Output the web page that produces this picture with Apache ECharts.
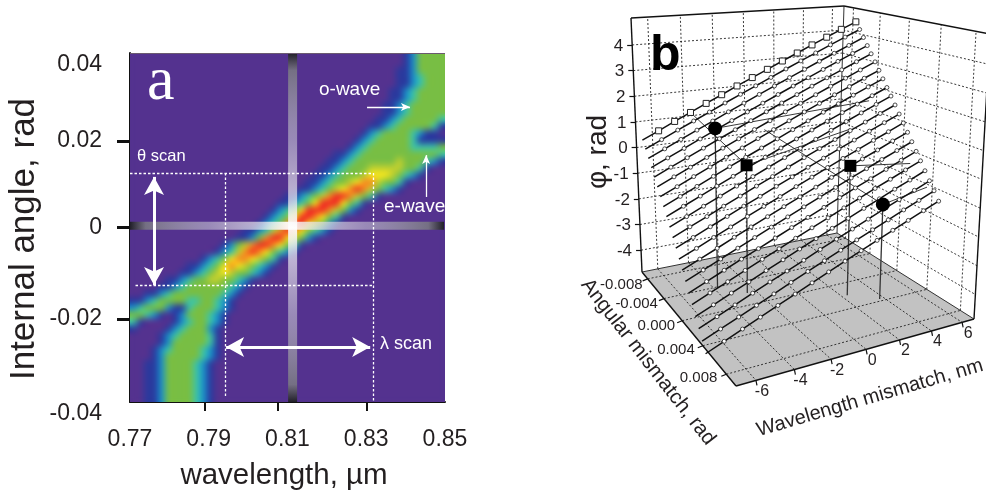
<!DOCTYPE html>
<html><head><meta charset="utf-8">
<style>html,body{margin:0;padding:0;background:#fff}#c{width:986px;height:491px}</style>
<script src="https://cdn.jsdelivr.net/npm/echarts@6/dist/echarts.min.js"></script>
</head><body><div id="c"></div>
<script>
// ---------- panel a data ----------
const xTicks = [0.77, 0.79, 0.81, 0.83, 0.85];
const xMajorTicks = [0.7891, 0.8076, 0.8302];
const yTicks = [-0.04, -0.021, 0, 0.0198, 0.04];
const yMajorTicks = [-0.021, 0, 0.0198];
// heat levels per row (top to bottom): [leading zero cells, levels]
const heatRows = [
[39,"124444"],[39,"124444"],[38,"1124444"],[38,"1123444"],[38,"1123444"],
[37,"11234444"],[37,"11234444"],[36,"112344444"],[36,"112344444"],[35,"1123444443"],
[34,"11234444431"],[33,"123444432110"],[32,"1234444431111"],[31,"12344444433334"],[29,"1123444444444443"],
[28,"11234444445444321"],[27,"1123444555554431"],[26,"1123444566654321"],[25,"112344567754431"],[24,"112345678754321"],
[22,"11234578875431"],[21,"1123468886431"],[20,"1234688875421"],[19,"123468876431"],[18,"123478865421"],
[16,"1123578764321"],[15,"112478865421"],[13,"124578876431"],[12,"123578764321"],[10,"123467765431"],
[8,"1123467654321"],[7,"1123456544321"],[5,"1123445544321"],[4,"1123444444321"],[2,"11234444444321"],
[0,"112344443344321"],[0,"234442113444321"],[0,"44321012444321"],[0,"31000012344321"],[0,"1000012344421"],
[4,"123444431"],[4,"124444431"],[3,"1234444321"],[3,"1244444321"],[2,"1124444321"],
[2,"1124444321"],[2,"1124444321"],[2,"1124444321"],[2,"1124444321"],[2,"1124444321"]];
const heatCols = 45;
const heatColors = ['#54328f','#2a3a9e','#1a90c8','#3cc4a8','#78be44','#c0d030','#f8e81c','#f58a20','#ee2a24'];
const crossWavelength = 0.8113;
const crossAngle = 0.0004;
const dashedLines = [[[0.77,0.0125],[0.8317,0.0125]],[[0.7714,-0.0132],[0.8317,-0.0132]],[[0.7941,0.0125],[0.7941,-0.039]],[[0.8317,0.0125],[0.8317,-0.04]]];
const scanArrows = [[[0.7761,0.0116],[0.7761,-0.0132]],[[0.7944,-0.0274],[0.8310,-0.0274]]];
const waveArrows = [[[0.8302,0.0276],[0.8411,0.0276]],[[0.8452,0.0070],[0.8452,0.0166]]];
const topEdge = [[[0.77,0.04],[0.85,0.04]]];

// ---------- panel b data ----------
const wavelengths = [-7,-6,-5,-4,-3,-2,-1,0,1,2,3,4,5,6,7];
const angles = [-0.008,-0.007375,-0.00675,-0.006125,-0.0055,-0.004875,-0.00425,-0.003625,-0.003,-0.002375,-0.00175,-0.001125,-0.0005,0.000125,0.00075,0.001375,0.002,0.002625,0.00325,0.003875,0.0045];
const phase = [
[.46,.74,1.03,1.31,1.60,1.88,2.17,2.45,2.73,3.02,3.30,3.59,3.87,4.16,4.44],
[.19,.47,.76,1.04,1.32,1.61,1.89,2.17,2.45,2.74,3.02,3.30,3.59,3.87,4.15],
[-.09,.19,.47,.75,1.03,1.32,1.60,1.88,2.16,2.44,2.72,3.00,3.28,3.56,3.85],
[-.36,-.08,.20,.48,.76,1.04,1.31,1.59,1.87,2.15,2.43,2.71,2.99,3.27,3.55],
[-.63,-.35,-.08,.20,.48,.75,1.03,1.31,1.59,1.86,2.14,2.42,2.69,2.97,3.25],
[-.91,-.63,-.36,-.08,.19,.47,.75,1.02,1.30,1.57,1.85,2.13,2.40,2.68,2.96],
[-1.18,-.91,-.63,-.36,-.08,.19,.47,.74,1.01,1.29,1.56,1.84,2.11,2.39,2.66],
[-1.45,-1.18,-.91,-.63,-.36,-.09,.18,.45,.73,1.00,1.27,1.54,1.82,2.09,2.36],
[-1.72,-1.45,-1.18,-.91,-.64,-.37,-.10,.17,.44,.71,.98,1.25,1.52,1.79,2.06],
[-2.00,-1.73,-1.46,-1.19,-.92,-.66,-.39,-.12,.15,.42,.69,.96,1.23,1.50,1.77],
[-2.27,-2.00,-1.74,-1.47,-1.20,-.93,-.67,-.40,-.13,.13,.40,.67,.93,1.20,1.47],
[-2.54,-2.28,-2.01,-1.75,-1.48,-1.22,-.95,-.69,-.42,-.16,.11,.37,.64,.90,1.17],
[-2.82,-2.56,-2.29,-2.03,-1.76,-1.50,-1.24,-.97,-.71,-.44,-.18,.08,.35,.61,.88],
[-3.09,-2.83,-2.57,-2.30,-2.04,-1.78,-1.52,-1.26,-1.00,-.73,-.47,-.21,.05,.32,.58],
[-3.36,-3.10,-2.84,-2.58,-2.32,-2.06,-1.80,-1.54,-1.28,-1.02,-.76,-.50,-.24,.02,.28],
[-3.64,-3.38,-3.12,-2.86,-2.61,-2.35,-2.09,-1.83,-1.57,-1.31,-1.05,-.80,-.54,-.28,-.02],
[-3.91,-3.65,-3.40,-3.14,-2.88,-2.63,-2.37,-2.11,-1.86,-1.60,-1.34,-1.08,-.83,-.57,-.31],
[-4.18,-3.93,-3.67,-3.42,-3.16,-2.91,-2.65,-2.40,-2.14,-1.89,-1.63,-1.38,-1.12,-.87,-.61],
[-4.45,-4.20,-3.95,-3.69,-3.44,-3.19,-2.94,-2.68,-2.43,-2.18,-1.93,-1.67,-1.42,-1.17,-.91],
[-4.73,-4.48,-4.23,-3.98,-3.73,-3.47,-3.22,-2.97,-2.72,-2.47,-2.22,-1.97,-1.71,-1.46,-1.20],
[-5.00,-4.75,-4.50,-4.25,-4.00,-3.75,-3.50,-3.25,-3.00,-2.75,-2.50,-2.25,-2.00,-1.75,-1.50]];
const circlePoints = [[-3.80,-0.0038,1.12],[3.70,0.0037,-1.4]];
const squarePoints = [[-2.55,-0.0019,-0.13],[2.35,0.0020,-0.09]];
const scanLines = [
[[-4,-0.008,1.31],[-2.55,-0.0019,-0.13]],
[[-0.5,-0.0045,0.75],[3.70,0.0037,-1.4]],
[[-3.80,-0.0038,1.12],[5.8,-0.003,1.6]],
[[-2.55,-0.0019,-0.13],[4,-0.0019,0.7]],
[[2.35,0.0020,-0.09],[6.3,0.0020,-0.35]],
[[3.70,0.0037,-1.4],[6.6,0.0037,-1.05]]];
const wTicks = [-6,-4,-2,0,2,4,6];
const aTicks = [-0.008,-0.004,0,0.004,0.008];
const aTickLabels = ['-0.008','-0.004','0.000','0.004','0.008'];
const phiTicks = [-4,-3,-2,-1,0,1,2,3,4];
const wRange = [-7,6.8], aRange = [-0.0095,0.0095], phiRange = [-4.85,5.05];

// projection frame of the perspective box (L, B, R, F corners on screen)
const floorQuad = [[642,272],[837,233],[974,319],[736,386]];
const ceilQuad  = [[631,18],[844,6],[990,34],[738,52]];
function quadMap(q){
  const [[x0,y0],[x1,y1],[x2,y2],[x3,y3]] = q;
  const dx1=x1-x2,dx2=x3-x2,sx=x0-x1+x2-x3,dy1=y1-y2,dy2=y3-y2,sy=y0-y1+y2-y3;
  const d=dx1*dy2-dx2*dy1, g=(sx*dy2-dx2*sy)/d, h=(dx1*sy-sx*dy1)/d;
  const a=x1-x0+g*x1,b=x3-x0+h*x3,c=x0,dd=y1-y0+g*y1,e=y3-y0+h*y3,f=y0;
  return (u,v)=>{const w=g*u+h*v+1;return [(a*u+b*v+c)/w,(dd*u+e*v+f)/w];};
}
const floorMap=quadMap(floorQuad), ceilMap=quadMap(ceilQuad);
function P(w,a,phi){
  const u=(w-wRange[0])/(wRange[1]-wRange[0]), v=(a-aRange[0])/(aRange[1]-aRange[0]), t=(phi-phiRange[0])/(phiRange[1]-phiRange[0]);
  const f=floorMap(u,v), c=ceilMap(u,v);
  return [f[0]+(c[0]-f[0])*t, f[1]+(c[1]-f[1])*t];
}
const [w0,w1]=wRange,[a0,a1]=aRange,[p0,p1]=phiRange;

// ---------- build marks ----------
// raster of the heat levels: one pixel per cell, then resampled smoothly
const heatSrc=document.createElement('canvas');
heatSrc.width=heatCols; heatSrc.height=heatRows.length;
{
  const g=heatSrc.getContext('2d');
  heatRows.forEach((r,j)=>{
    const s=String(r[1]);
    for(let i=0;i<heatCols;i++){
      const k=i-r[0];
      g.fillStyle=heatColors[(k>=0&&k<s.length)?+s[k]:0];
      g.fillRect(i,j,1,1);
    }
  });
}
const heatImg=document.createElement('canvas');
heatImg.width=315; heatImg.height=349;
{
  const g=heatImg.getContext('2d');
  g.imageSmoothingEnabled=true; g.imageSmoothingQuality='high';
  g.drawImage(heatSrc,0,0,315,349);
  g.filter='blur(2.5px)';
  g.drawImage(heatSrc,0,0,315,349);
  g.filter='none';
}

const dash=[], frame=[], thinFrame=[], tickSegs=[];
wTicks.forEach(w=>{
  dash.push({coords:[P(w,a0,p0),P(w,a0,p1)]});
  dash.push({coords:[P(w,a0,p0),P(w,a1,p0)]});
  tickSegs.push({coords:[P(w,a1,p0),(q=>[q[0]+1,q[1]+5])(P(w,a1,p0))]});
});
aTicks.forEach(a=>{
  dash.push({coords:[P(w1,a,p0),P(w1,a,p1)]});
  dash.push({coords:[P(w0,a,p0),P(w1,a,p0)]});
  tickSegs.push({coords:[P(w0,a,p0),(q=>[q[0]-5,q[1]+2])(P(w0,a,p0))]});
});
phiTicks.forEach(h=>{
  dash.push({coords:[P(w0,a0,h),P(w1,a0,h)]});
  dash.push({coords:[P(w1,a0,h),P(w1,a1,h)]});
  tickSegs.push({coords:[P(w0,a0,h),(q=>[q[0]-5,q[1]])(P(w0,a0,h))]});
});
frame.push({coords:[P(w0,a0,p0),P(w0,a0,p1)]},{coords:[P(w0,a0,p1),P(w1,a0,p1)]},{coords:[P(w1,a0,p1),P(w1,a1,p1)]},
           {coords:[P(w1,a1,p1),P(w1,a1,p0)]},{coords:[P(w0,a0,p0),P(w0,a1,p0)]},{coords:[P(w0,a1,p0),P(w1,a1,p0)]});
thinFrame.push({coords:[P(w1,a0,p0),P(w1,a0,p1)]},{coords:[P(w0,a0,p0),P(w1,a0,p0)]},{coords:[P(w1,a0,p0),P(w1,a1,p0)]});
const drops=[...circlePoints,...squarePoints].map(d=>({coords:[P(d[0],d[1],d[2]),P(d[0],d[1],p0)]}));
const thin=scanLines.map(l=>({coords:[P(...l[0]),P(...l[1])]}));

const A={xAxisIndex:0,yAxisIndex:0}, B={xAxisIndex:1,yAxisIndex:1};
const font='"Liberation Sans", Arial, sans-serif';
const txt='#231f20';

const rowSeries=phase.map((row,i)=>({
  type:'line',...B,silent:true,z:6,animation:false,
  showSymbol:true,showAllSymbol:true,symbol:i===0?'rect':'circle',symbolSize:i===0?6:4,
  itemStyle:{color:'#fff',borderColor:'#222',borderWidth:i===0?1:0.8},
  lineStyle:{color:'#111',width:1.5},
  data:row.map((phi,k)=>k===0?{value:P(wavelengths[k],angles[i],phi),symbol:'none'}:{value:P(wavelengths[k],angles[i],phi)})
}));
function lineSeg(data,color,width,type,z){return {type:'lines',coordinateSystem:'cartesian2d',...B,silent:true,z:z,polyline:false,
  lineStyle:{color,width,type,opacity:1},data};}
function textSeries(items,align,size){return {type:'custom',...B,silent:true,z:8,clip:false,
  renderItem:(p,api)=>{const d=items[p.dataIndex];const c=api.coord([d[0],d[1]]);
    return {type:'text',x:c[0],y:c[1],style:{text:d[2],fill:txt,font:size+'px '+font,textAlign:align,textVerticalAlign:'middle'}};},
  data:items.map(d=>[d[0],d[1]])};}
const phiLabelItems=phiTicks.map(h=>{const q=P(w0,a0,h);return [q[0]-9,q[1]+1,String(h)];});
const aLabelItems=aTicks.map((a,i)=>{const q=P(w0,a,p0);return [q[0]-5-i,q[1]+6.5-i*0.75,aTickLabels[i]];});
const wLabelItems=wTicks.map(w=>{const q=P(w,a1,p0);return [q[0]+6,q[1]+11,String(w)];});

function gradientBar(vertical){
  return {type:'linear',x:0,y:0,x2:vertical?0:1,y2:vertical?1:0,colorStops:[
    {offset:0,color:'rgba(30,30,35,0.95)'},{offset:0.05,color:'rgba(120,118,130,0.9)'},
    {offset:0.25,color:'rgba(190,185,205,0.65)'},{offset:0.42,color:'rgba(235,232,240,0.72)'},
    {offset:0.5,color:'rgba(255,255,255,0.92)'},{offset:0.58,color:'rgba(235,232,240,0.72)'},
    {offset:0.75,color:'rgba(190,185,205,0.65)'},{offset:0.95,color:'rgba(120,118,130,0.9)'},{offset:1,color:'rgba(30,30,35,0.95)'}]};
}
function annot(pairs,color,width,type,sym,size){
  return {type:'line',...A,data:[],silent:true,z:7,markLine:{silent:true,animation:false,symbol:sym,symbolSize:size,label:{show:false},
    lineStyle:{color,width,type,opacity:1},data:pairs.map(p=>[{coord:p[0]},{coord:p[1]}])}};
}

const option={
  animation:false,backgroundColor:'#fff',
  grid:[{left:130,top:53,width:315,height:349,show:false,outerBoundsMode:'none'},{left:0,top:0,width:986,height:491,show:false,outerBoundsMode:'none'}],
  xAxis:[{type:'value',gridIndex:0,min:0.77,max:0.85,name:'wavelength, \u00b5m',nameLocation:'middle',nameGap:59,
      nameTextStyle:{fontFamily:font,fontSize:29.5,color:txt,padding:[0,7,0,0]},
      axisLine:{show:true,onZero:false,lineStyle:{color:'#111',width:2}},
      axisTick:{show:true,customValues:xMajorTicks,length:9,lineStyle:{color:'#111',width:2}},
      axisLabel:{customValues:xTicks,margin:26,fontFamily:font,fontSize:23,color:txt,formatter:v=>v.toFixed(2)},splitLine:{show:false}},
    {type:'value',gridIndex:1,min:0,max:986,show:false}],
  yAxis:[{type:'value',gridIndex:0,min:-0.04,max:0.04,name:'Internal angle, rad',nameLocation:'middle',nameGap:88,nameRotate:90,
      nameTextStyle:{fontFamily:font,fontSize:35,color:txt,padding:[0,23,0,0]},
      axisLine:{show:true,onZero:false,lineStyle:{color:'#111',width:2}},
      axisTick:{show:true,customValues:yMajorTicks,length:13,lineStyle:{color:'#111',width:3}},
      axisLabel:{customValues:yTicks,margin:28,fontFamily:font,fontSize:23,color:txt,verticalAlignMinLabel:'top',verticalAlignMaxLabel:'top',
        formatter:v=>Math.abs(v)<1e-9?'0':v.toFixed(2)},splitLine:{show:false}},
    {type:'value',gridIndex:1,min:0,max:491,inverse:true,show:false}],
  series:[
    {type:'custom',...A,silent:true,z:2,clip:true,data:[[0.77,0.04,0.85,-0.04]],encode:{x:[0,2],y:[1,3]},
      renderItem:(p,api)=>{
        const a=api.coord([api.value(0),api.value(1)]),b=api.coord([api.value(2),api.value(3)]);
        return {type:'image',style:{image:heatImg,x:a[0],y:a[1],width:b[0]-a[0],height:b[1]-a[1]}};
      }},
    {type:'custom',...A,silent:true,z:3,clip:true,data:[[crossWavelength,crossAngle]],
      renderItem:(p,api)=>{
        const c=api.coord([api.value(0),api.value(1)]);
        const t=api.coord([0.77,0.04]),b=api.coord([0.85,-0.04]);
        return {type:'group',children:[
          {type:'rect',shape:{x:t[0],y:c[1]-4,width:b[0]-t[0]-1,height:8},style:{fill:gradientBar(false)}},
          {type:'rect',shape:{x:c[0]-4.5,y:t[1],width:9,height:b[1]-t[1]},style:{fill:gradientBar(true)}}]};
      }},
    annot(dashedLines,'#fff',1.3,[2.5,2],'none',0),
    annot(topEdge,'#6b5a70',1,'solid','none',0),
    annot(scanArrows,'#fff',3,'solid',['arrow','arrow'],[15,18]),
    annot(waveArrows,'#fff',1.3,'solid',['none','arrow'],[6,9]),
    // panel b
    {type:'custom',...B,silent:true,z:1,clip:false,data:[[0]],
      renderItem:(p,api)=>({type:'polygon',shape:{points:[P(w0,a0,p0),P(w1,a0,p0),P(w1,a1,p0),P(w0,a1,p0)].map(q=>api.coord(q))},style:{fill:'#c2c2c2'}})},
    lineSeg(dash,'#222',0.9,[2,2],2),
    lineSeg(thinFrame,'#333',1,'solid',3),
    lineSeg(frame,'#111',1.4,'solid',3),
    lineSeg(tickSegs,'#111',1.2,'solid',3),
    lineSeg(drops,'#333',1.3,'solid',4),
    lineSeg(thin,'#222',0.9,'solid',5),
    ...rowSeries,
    {type:'scatter',...B,silent:true,z:7,symbol:'circle',symbolSize:14,itemStyle:{color:'#000',opacity:1},data:circlePoints.map(d=>P(...d))},
    {type:'scatter',...B,silent:true,z:7,symbol:'rect',symbolSize:12,itemStyle:{color:'#000',opacity:1},data:squarePoints.map(d=>P(...d))},
    textSeries(phiLabelItems,'right',17),
    textSeries(aLabelItems,'right',15),
    textSeries(wLabelItems,'center',16)
  ],
  graphic:[
    {type:'text',x:147,y:52,z:20,style:{text:'a',fill:'#fff',font:'62px "Liberation Serif", serif'}},
    {type:'text',x:319,y:80,z:20,style:{text:'o-wave',fill:'#fff',font:'19px '+font}},
    {type:'text',x:137,y:148,z:20,style:{text:'\u03b8 scan',fill:'#fff',font:'16.5px '+font}},
    {type:'text',x:384,y:197,z:20,style:{text:'e-wave',fill:'#fff',font:'19px '+font}},
    {type:'text',x:380,y:335,z:20,style:{text:'\u03bb scan',fill:'#fff',font:'18px '+font}},
    {type:'text',x:650,y:31,z:20,style:{text:'b',fill:'#000',font:'bold 50px '+font}},
    {type:'text',x:598,y:152,rotation:Math.PI/2,z:20,style:{text:'\u03c6, rad',fill:txt,font:'28px '+font,textAlign:'center',textVerticalAlign:'middle'}},
    {type:'text',x:648,y:362,rotation:-52*Math.PI/180,z:20,style:{text:'Angular mismatch, rad',fill:txt,font:'20.5px '+font,textAlign:'center',textVerticalAlign:'middle'}},
    {type:'text',x:870,y:398,rotation:16.3*Math.PI/180,z:20,style:{text:'Wavelength mismatch, nm',fill:txt,font:'20px '+font,textAlign:'center',textVerticalAlign:'middle'}}
  ]
};
echarts.init(document.getElementById('c'),null,{renderer:'canvas'}).setOption(option);
</script></body></html>
